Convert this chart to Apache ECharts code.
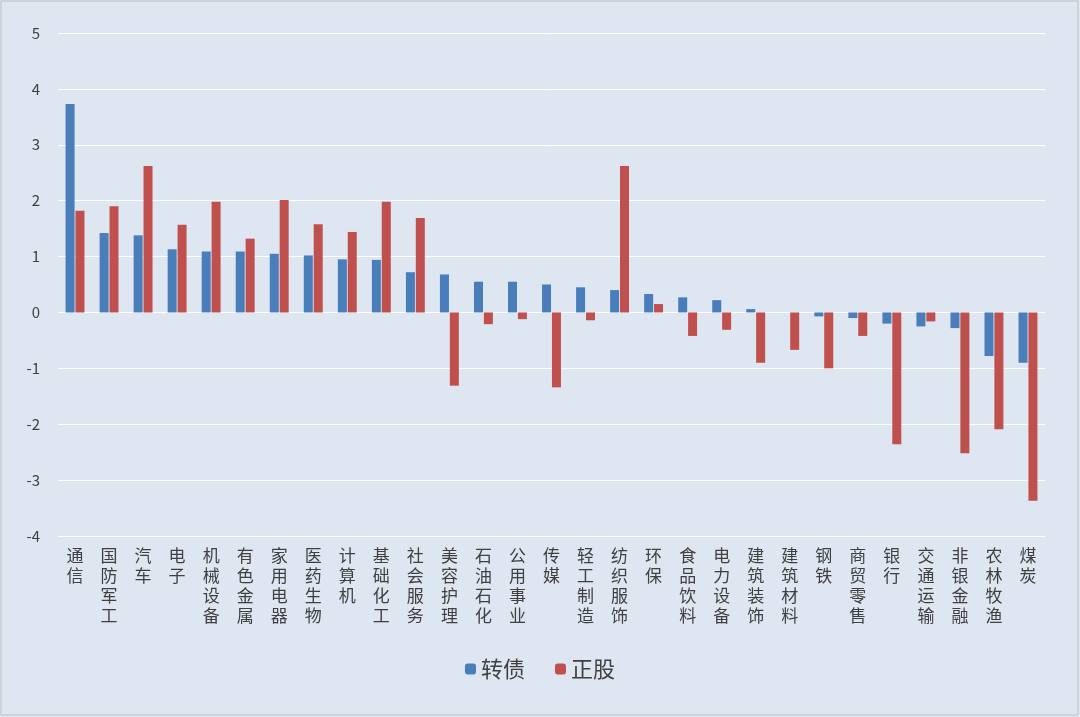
<!DOCTYPE html>
<html><head><meta charset="utf-8">
<script src="https://cdn.jsdelivr.net/npm/echarts@6/dist/echarts.min.js"></script>
<style>html,body{margin:0;padding:0;background:#fff}#c{width:1080px;height:717px}</style>
</head><body><div id="c"></div>
<script>
const categories = ['通信','国防军工','汽车','电子','机械设备','有色金属','家用电器','医药生物','计算机','基础化工','社会服务','美容护理','石油石化','公用事业','传媒','轻工制造','纺织服饰','环保','食品饮料','电力设备','建筑装饰','建筑材料','钢铁','商贸零售','银行','交通运输','非银金融','农林牧渔','煤炭'];
const bondValues = [3.73,1.42,1.38,1.13,1.09,1.09,1.05,1.02,0.95,0.94,0.72,0.68,0.55,0.55,0.5,0.45,0.4,0.33,0.27,0.22,0.06,0,-0.07,-0.1,-0.2,-0.25,-0.28,-0.78,-0.9];
const stockValues = [1.82,1.9,2.62,1.57,1.98,1.32,2.01,1.58,1.44,1.98,1.69,-1.31,-0.21,-0.12,-1.34,-0.14,2.62,0.15,-0.42,-0.31,-0.9,-0.67,-1.0,-0.42,-2.36,-0.16,-2.52,-2.09,-3.37];
const chart = echarts.init(document.getElementById('c'));
chart.setOption({
  backgroundColor: '#dde6f1',
  textStyle: {fontFamily: 'Noto Sans CJK SC'},
  graphic: [{type:'rect', shape:{x:1,y:1,width:1077,height:714}, style:{fill:'none', stroke:'#bfbfbf'}}],
  grid: {left: 58, right: 35, top: 33, bottom: 181},
  legend: {bottom: 32, left: 'center', itemWidth: 11, itemHeight: 11, itemGap: 30,
    textStyle: {fontSize: 22, color: '#404040'}, data: ['转债','正股']},
  xAxis: {type: 'category', data: categories, position: 'bottom',
    axisLine: {onZero: false, show: false}, axisTick: {show: false},
    axisLabel: {interval: 0, fontSize: 17, color: '#404040', lineHeight: 20, margin: 10,
      formatter: v => v.split('').join('\n')}},
  yAxis: {type: 'value', min: -4, max: 5, interval: 1,
    axisLabel: {fontSize: 15, color: '#404040', margin: 18},
    splitLine: {lineStyle: {color: '#ffffff', width: 1}}, axisLine: {show: false}},
  series: [
    {name: '转债', type: 'bar', data: bondValues, barWidth: 9, barGap: '10%', itemStyle: {color: '#4a7ebb'}},
    {name: '正股', type: 'bar', data: stockValues, barWidth: 9, itemStyle: {color: '#c0504d'}}
  ]
});
</script></body></html>
